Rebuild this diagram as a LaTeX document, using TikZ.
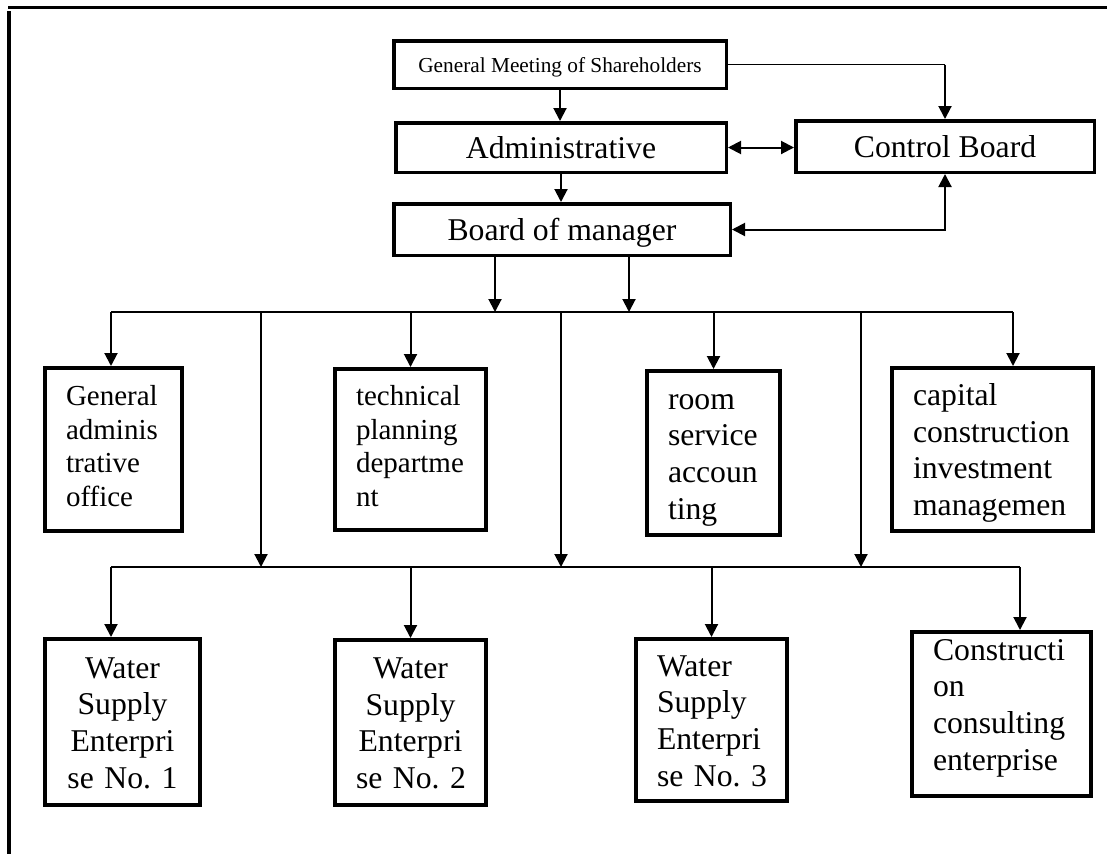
\documentclass[tikz,border=0pt]{standalone}
\usepackage{fontspec}
\setmainfont{Liberation Serif}
\usetikzlibrary{arrows.meta}
\frenchspacing

\begin{document}
\begin{tikzpicture}[x=1pt,y=-1pt,
    head/.style={draw,line width=3.5pt,inner sep=0pt,text depth=0pt,font=\fontsize{31.7}{36}\selectfont},
    unit/.style={draw,line width=4pt,inner xsep=21pt,inner ysep=0pt,align=left,text height=20pt,text depth=108pt,font=\fontsize{31.7}{36.7}\selectfont},
    small/.style={font=\fontsize{29}{33.5}\selectfont},
    arr/.style={line width=2pt,-{Triangle[length=13pt,width=13pt]}},
    both/.style={line width=2pt,{Triangle[length=13pt,width=13pt]}-{Triangle[length=13pt,width=13pt]}},
    bus/.style={line width=1.2pt}]
\useasboundingbox (0,0) rectangle (1107,854);
\draw[line width=3pt] (8,7) -- (1107,7);
\draw[line width=3.5pt] (9,11) -- (9,854);

\node[head,minimum width=332.5pt,minimum height=47.5pt,font=\fontsize{21.3}{24}\selectfont] (gms) at (560,64.5) {General Meeting of Shareholders};
\node[head,minimum width=330.5pt,minimum height=49.5pt] (adm) at (561,147.5) {Administrative};
\node[head,minimum width=298.5pt,minimum height=51.5pt] (ctrl) at (945,146.5) {Control Board};
\node[head,minimum width=336.5pt,minimum height=51.5pt] (bom) at (562,229.5) {Board of manager};

\node[unit,small,text width=95pt,minimum height=163pt] (gao) at (113.5,449.5) {General\\adminis\\trative\\office};
\node[unit,small,text width=109pt,minimum height=161pt] (tpd) at (410.5,449.5) {technical\\planning\\departme\\nt};
\node[unit,text width=91pt,minimum height=164pt] (rsa) at (713.5,453) {room\\service\\accoun\\ting};
\node[unit,text width=159pt,minimum height=163pt] (cci) at (992.5,449.5) {capital\\construction\\investment\\managemen};

\node[unit,align=center,text width=113pt,minimum height=166pt] (ws1) at (122.5,722) {Water\\Supply\\Enterpri\\se~No.~1};
\node[unit,align=center,text width=109pt,minimum height=165pt] (ws2) at (410.5,722.5) {Water\\Supply\\Enterpri\\se~No.~2};
\node[unit,text width=109pt,minimum height=162pt] (ws3) at (711.5,720) {Water\\Supply\\Enterpri\\se~No.~3};
\node[unit,text depth=128pt,text width=137pt,minimum height=164pt] (cce) at (1001.5,714) {Constructi\\on\\consulting\\enterprise};

\draw[arr] (gms.south) -- (gms.south |- adm.north);
\draw[arr] (adm.south) -- (adm.south |- bom.north);
\draw[bus] (gms.east) -- (gms.east -| ctrl.north);
\draw[arr] (gms.east -| ctrl.north) -- (ctrl.north);
\draw[both] (adm.east) -- (adm.east -| ctrl.west);
\draw[both] (bom.east) -| (ctrl.south);

\coordinate (ul) at (111,312);
\coordinate (ur) at (1013,312);
\coordinate (ll) at (111,567);
\coordinate (lr) at (1020,567);
\draw[bus] (ul) -- (ur);
\draw[bus] (ll) -- (lr);
\draw[arr] ([xshift=-67pt]bom.south) -- ([xshift=-67pt]bom.south |- ul);
\draw[arr] ([xshift=67pt]bom.south) -- ([xshift=67pt]bom.south |- ul);
\draw[arr] (ul) -- (ul |- gao.north);
\draw[arr] (ul -| tpd.north) -- (tpd.north);
\draw[arr] (ul -| rsa.north) -- (rsa.north);
\draw[arr] (ur) -- (ur |- cci.north);
\foreach \x in {150,450,750}
  \draw[arr] ([xshift=\x pt]ul) -- ([xshift=\x pt]ll);
\draw[arr] (ll) -- (ll |- ws1.north);
\draw[arr] (ll -| ws2.north) -- (ws2.north);
\draw[arr] (ll -| ws3.north) -- (ws3.north);
\draw[arr] (lr) -- (lr |- cce.north);
\end{tikzpicture}
\end{document}
